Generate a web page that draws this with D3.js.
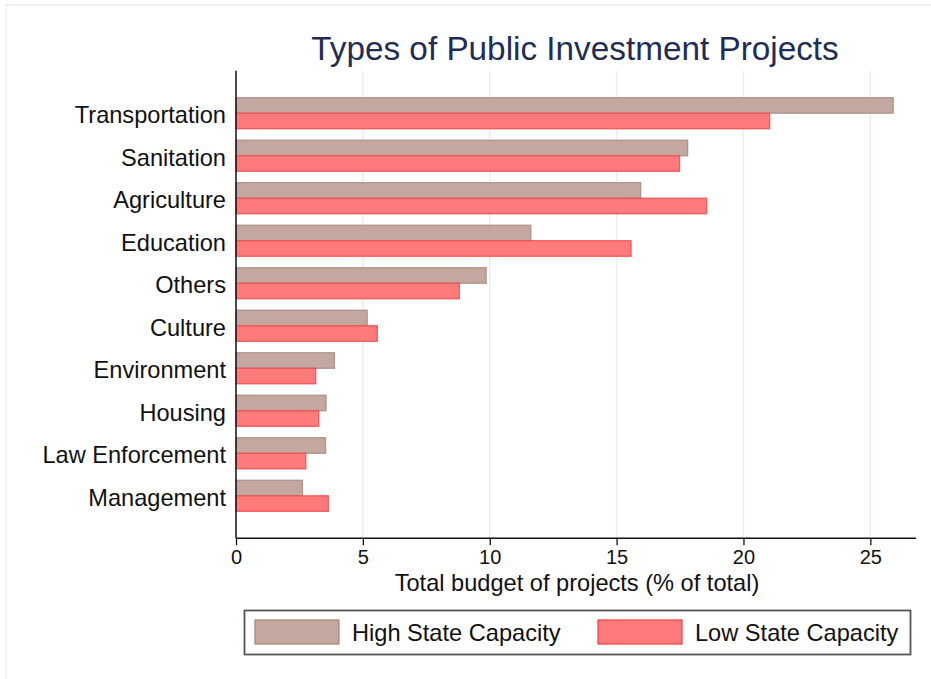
<!DOCTYPE html>
<html><head><meta charset="utf-8">
<script src="https://cdn.jsdelivr.net/npm/d3@7"></script>
<style>
html,body{margin:0;padding:0;background:#fff;}
svg text{font-family:"Liberation Sans",Arial,Helvetica,sans-serif;}
</style></head>
<body><svg id="chart" width="931" height="679"></svg>
<script>
const categories = ["Transportation","Sanitation","Agriculture","Education","Others","Culture","Environment","Housing","Law Enforcement","Management"];
const highValues = [25.9, 17.8, 15.95, 11.62, 9.86, 5.17, 3.88, 3.55, 3.53, 2.62];
const lowValues  = [21.03, 17.48, 18.55, 15.57, 8.8, 5.57, 3.14, 3.26, 2.75, 3.64];
const seriesNames = ["High State Capacity","Low State Capacity"];
const xTicks = [0, 5, 10, 15, 20, 25];
const titleText = "Types of Public Investment Projects";
const xTitle = "Total budget of projects (% of total)";

(function () {
const colors = {
  fill: ["#c4a8a0", "#ff7b7b"],
  stroke: ["#a68b81", "#f04a4a"]
};

const svg = d3.select("#chart");
const pLeft = 236, pRight = 916, pTop = 70.7, pBottom = 538.3;

// outer faint frame
svg.append("rect").attr("x", 6).attr("y", 5).attr("width", 1000).attr("height", 1000)
  .attr("fill", "none").attr("stroke", "#e8eff1").attr("stroke-width", 1.5);

const x = d3.scaleLinear().domain([0, 26.8]).range([pLeft, pRight]);
const y = d3.scaleBand().domain(categories).range([pTop, pBottom]).paddingInner(0.27).paddingOuter(0.635);
const ySub = d3.scaleBand().domain(seriesNames).range([0, y.bandwidth()]).padding(0);

// gridlines
svg.append("g").selectAll("line").data(xTicks.filter(d => d > 0)).join("line")
  .attr("x1", d => x(d)).attr("x2", d => x(d))
  .attr("y1", pTop).attr("y2", pBottom)
  .attr("stroke", "#e5eef0").attr("stroke-width", 1.5);

// bars
const data = categories.map((c, i) => ({c, vals: [highValues[i], lowValues[i]]}));
const groups = svg.append("g").selectAll("g").data(data).join("g")
  .attr("transform", d => `translate(0,${y(d.c)})`);
groups.selectAll("rect").data(d => d.vals.map((v, j) => ({v, j}))).join("rect")
  .attr("x", x(0))
  .attr("y", d => ySub(seriesNames[d.j]))
  .attr("width", d => x(d.v) - x(0))
  .attr("height", ySub.bandwidth())
  .attr("fill", d => colors.fill[d.j])
  .attr("stroke", d => colors.stroke[d.j])
  .attr("stroke-width", 1.3)
  .attr("stroke-opacity", 0.85);

// x axis
const xAxis = d3.axisBottom(x).tickValues(xTicks).tickSize(7).tickPadding(5).tickFormat(d3.format("d"));
const gx = svg.append("g").attr("transform", `translate(0,${pBottom})`).call(xAxis);
gx.select(".domain").attr("d", `M${pLeft},0H${pRight}`).attr("stroke", "#111").attr("stroke-width", 1.5);
gx.selectAll(".tick line").attr("stroke", "#111").attr("stroke-width", 1.3);
gx.selectAll(".tick text").attr("font-size", 20).attr("fill", "#111")
  .attr("font-family", "'Liberation Sans', Arial, sans-serif");

// y axis
const yAxis = d3.axisLeft(y).tickSize(0).tickPadding(10);
const gy = svg.append("g").attr("transform", `translate(${pLeft},0)`).call(yAxis);
gy.select(".domain").attr("d", `M0,${pTop}V${pBottom}`).attr("stroke", "#111").attr("stroke-width", 1.5);
gy.selectAll(".tick text").attr("font-size", 23.6).attr("fill", "#111").attr("dy", "0.42em")
  .attr("font-family", "'Liberation Sans', Arial, sans-serif");

// title
svg.append("text").attr("x", 575).attr("y", 60).attr("text-anchor", "middle")
  .attr("font-size", 33.3).attr("fill", "#1f2d55").text(titleText);

// x axis title
svg.append("text").attr("x", 577).attr("y", 591).attr("text-anchor", "middle")
  .attr("font-size", 23.6).attr("fill", "#111").text(xTitle);

// legend
const lg = svg.append("g");
lg.append("rect").attr("x", 244.5).attr("y", 610.5).attr("width", 666).attr("height", 44)
  .attr("fill", "#fff").attr("stroke", "#555").attr("stroke-width", 1.8);
const legX = [255, 598];
seriesNames.forEach((s, i) => {
  lg.append("rect").attr("x", legX[i]).attr("y", 620).attr("width", 84).attr("height", 24)
    .attr("fill", colors.fill[i]).attr("stroke", colors.stroke[i]).attr("stroke-width", 1.3);
  lg.append("text").attr("x", legX[i] + 97).attr("y", 641)
    .attr("font-size", 23.6).attr("fill", "#111").text(s);
});
})();
</script></body></html>
